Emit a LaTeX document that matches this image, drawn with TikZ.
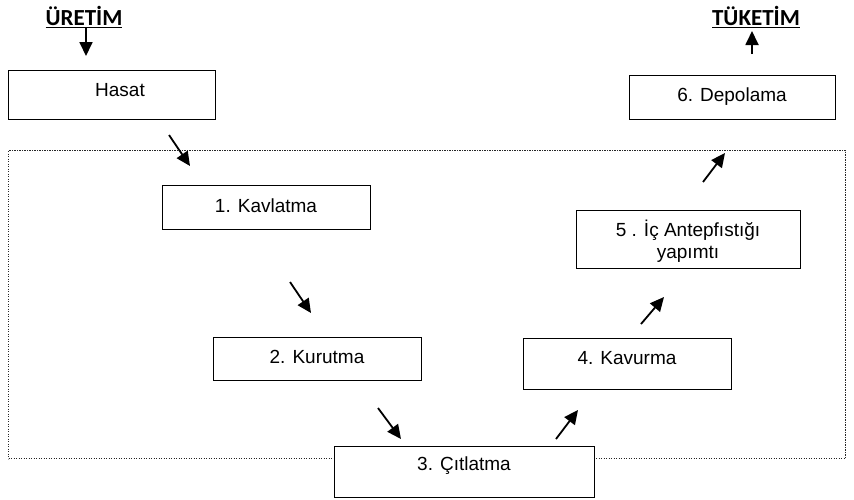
\documentclass[tikz,border=0pt]{standalone}
\usepackage{fontspec}
\setmainfont{Liberation Sans}
\newfontfamily\headfont{Carlito}
\usetikzlibrary{arrows.meta}
\begin{document}
\begin{tikzpicture}[x=1pt,y=-1pt,
  stepbox/.style={draw, line width=1.4pt, fill=white, rectangle, inner sep=0pt, anchor=north west},
  txt/.style={font=\fontsize{19}{22}\selectfont, inner sep=0pt, align=center},
  head/.style={font=\headfont\bfseries\fontsize{23}{25}\selectfont, inner sep=0pt},
  arr/.style={line width=1.8pt, -{Triangle[length=14pt,width=13pt]}},
  zone/.style={draw=black!85, line width=1.3pt, dash pattern=on 1.2pt off 1.3pt}
]
\useasboundingbox (0,0) rectangle (854,499);
% dotted zone
\node[zone, rectangle, inner sep=0pt, minimum width=837pt, minimum height=308pt, anchor=north west] (zone) at (8,150) {};
% headings
\node[head] (uretim) at (84,17) {\underline{ÜRETİM}};
\node[head] (tuketim) at (756,17) {\underline{TÜKETİM}};
% boxes
\node[stepbox, minimum width=207pt, minimum height=49pt] (hasat) at (8,70) {};
\node[txt] (thasat) at (120,90) {Hasat};
\node[stepbox, minimum width=206pt, minimum height=44pt] (depo) at (629,75) {};
\node[txt] (tdepo) at (732,97) {6. Depolama};
\node[stepbox, minimum width=208pt, minimum height=44pt] (kavl) at (162,185) {};
\node[txt] (tkavl) at (266,206) {1. Kavlatma};
\node[stepbox, minimum width=224pt, minimum height=58pt] (ic) at (576,210) {};
\node[txt] (tic) at (688,241) {5 . İç Antepfıstığı\\yapımtı};
\node[stepbox, minimum width=208pt, minimum height=43pt] (kuru) at (213,337) {};
\node[txt] (tkuru) at (317,357) {2. Kurutma};
\node[stepbox, minimum width=208pt, minimum height=51pt] (kavu) at (523,338) {};
\node[txt] (tkavu) at (627,358) {4. Kavurma};
\node[stepbox, minimum width=260pt, minimum height=51pt] (citl) at (334,446) {};
\node[txt] (tcitl) at (464,466) {3. Çıtlatma};
% arrow end points
\coordinate (u0) at (86,28); \coordinate (u1) at (86,56);
\coordinate (t0) at (752,54); \coordinate (t1) at (752,31);
\coordinate (a1s) at (169,135); \coordinate (a1e) at (190,166);
\coordinate (a2s) at (290,282); \coordinate (a2e) at (311,313);
\coordinate (a3s) at (378,408); \coordinate (a3e) at (401,439);
\coordinate (a4s) at (556,439); \coordinate (a4e) at (578,410);
\coordinate (a5s) at (641,324); \coordinate (a5e) at (664,297);
\coordinate (a6s) at (703,182); \coordinate (a6e) at (725,153);
\draw[arr] (u0) -- (u1);
\draw[arr] (t0) -- (t1);
\draw[arr] (a1s) -- (a1e);
\draw[arr] (a2s) -- (a2e);
\draw[arr] (a3s) -- (a3e);
\draw[arr] (a4s) -- (a4e);
\draw[arr] (a5s) -- (a5e);
\draw[arr] (a6s) -- (a6e);
\end{tikzpicture}
\end{document}
